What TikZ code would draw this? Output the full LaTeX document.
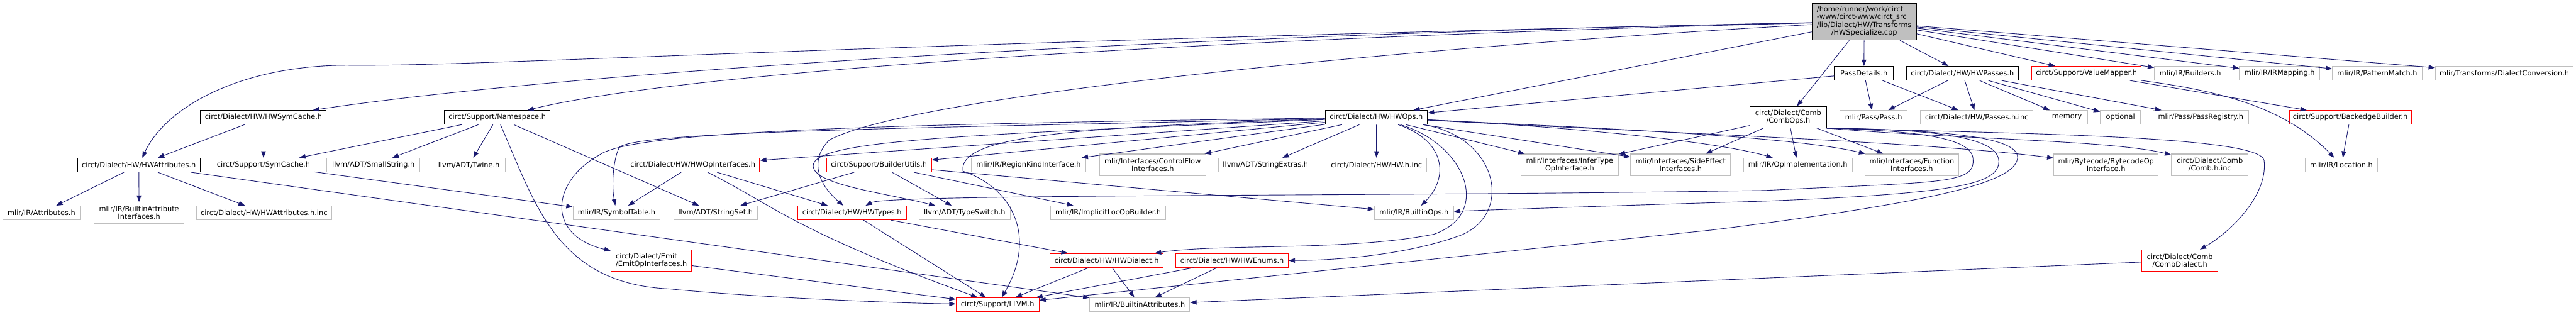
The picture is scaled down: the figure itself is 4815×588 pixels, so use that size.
\documentclass[tikz,border=0pt]{standalone}
\usepackage{fontspec}
\setmainfont{DejaVu Sans}
\usetikzlibrary{arrows.meta}
\definecolor{cedge}{HTML}{191970}
\definecolor{cleaf}{HTML}{BFBFBF}
\definecolor{ctrunc}{HTML}{FF0000}
\def\px{0.75pt}
\tikzset{
  every picture/.style={x=\px, y=-\px},
  file/.style={draw, rectangle, inner sep=0pt, minimum height=26*\px, align=center,
    line width=0.9pt, font=\fontsize{10}{10.5}\selectfont},
  lnk/.style={file, draw=black},
  leaf/.style={file, draw=cleaf},
  trunc/.style={file, draw=ctrunc},
  wd/.style={minimum width=#1*\px},
  tall/.style={minimum height=40*\px},
  inc/.style={draw=cedge, line width=0.8pt, -{Triangle[length=9pt,width=6.5pt]}},
}
\newcommand{\bbox}{\path[use as bounding box, fill=white] (0,0) rectangle (4815,588);}

\begin{document}
\begin{tikzpicture}
  \bbox
  % source file and first level
  \node[lnk, fill=cleaf, wd=195, minimum height=69*\px] (main) at (3484.5,40.5)
    {\begin{tabular}{@{}l@{}}/home/runner/work/circt\\-www/circt-www/circt\_src\\
     /lib/Dialect/HW/Transforms\\\multicolumn{1}{@{}c@{}}{/HWSpecialize.cpp}\end{tabular}};
  \node[lnk, wd=110] (passdet) at (3484,137) {PassDetails.h};
  \node[lnk, wd=210] (hwpasses) at (3668,137) {circt/Dialect/HW/HWPasses.h};
  \node[trunc, wd=204] (valmap) at (3900,137) {circt/Support/ValueMapper.h};
  \node[leaf, wd=134] (builders) at (4094,137) {mlir/IR/Builders.h};
  \node[leaf, wd=150] (irmap) at (4261,137) {mlir/IR/IRMapping.h};
  \node[leaf, wd=167] (patmatch) at (4443.5,137) {mlir/IR/PatternMatch.h};
  \node[leaf, wd=258] (dialconv) at (4681,137) {mlir/Transforms/DialectConversion.h};

  \node[lnk, wd=235] (hwsymcache) at (492.5,219.5) {circt/Dialect/HW/HWSymCache.h};
  \node[lnk, wd=197] (namespace) at (929.5,219.5) {circt/Support/Namespace.h};
  \node[lnk, wd=191] (hwops) at (2572.5,219.5) {circt/Dialect/HW/HWOps.h};
  \node[lnk, wd=143, tall] (combops) at (3342.5,219) {circt/Dialect/Comb\\/CombOps.h};
  \node[leaf, wd=126] (pass) at (3502,219.5) {mlir/Pass/Pass.h};
  \node[leaf, wd=210] (passesinc) at (3695,219.5) {circt/Dialect/HW/Passes.h.inc};
  \node[leaf, wd=77] (memory) at (3863.5,219.5) {memory};
  \node[leaf, wd=75] (optional) at (3963.5,219.5) {optional};
  \node[leaf, wd=179] (passreg) at (4113.5,219.5) {mlir/Pass/PassRegistry.h};
  \node[trunc, wd=228] (backedge) at (4393,219.5) {circt/Support/BackedgeBuilder.h};

  \node[lnk, wd=229] (hwattr) at (259.5,308.5) {circt/Dialect/HW/HWAttributes.h};
  \node[trunc, wd=189] (symcache) at (492.5,308.5) {circt/Support/SymCache.h};
  \node[leaf, wd=174] (smallstr) at (698,308.5) {llvm/ADT/SmallString.h};
  \node[leaf, wd=135] (twine) at (876.5,308.5) {llvm/ADT/Twine.h};
  \node[trunc, wd=250] (hwopif) at (1295,308.5) {circt/Dialect/HW/HWOpInterfaces.h};
  \node[trunc, wd=196] (bldutils) at (1643,308.5) {circt/Support/BuilderUtils.h};
  \node[leaf, wd=213] (regionkind) at (1922.5,308.5) {mlir/IR/RegionKindInterface.h};
  \node[leaf, wd=199, tall] (ctrlflow) at (2154.5,308) {mlir/Interfaces/ControlFlow\\Interfaces.h};
  \node[leaf, wd=177] (strextras) at (2365.5,308.5) {llvm/ADT/StringExtras.h};
  \node[leaf, wd=188] (hwinc) at (2573,308.5) {circt/Dialect/HW/HW.h.inc};
  \node[leaf, wd=182, tall] (infertype) at (2934,308) {mlir/Interfaces/InferType\\OpInterface.h};
  \node[leaf, wd=187, tall] (sideeff) at (3141.5,308) {mlir/Interfaces/SideEffect\\Interfaces.h};
  \node[leaf, wd=203] (opimpl) at (3360.5,308.5) {mlir/IR/OpImplementation.h};
  \node[leaf, wd=175, tall] (funcif) at (3573.5,308) {mlir/Interfaces/Function\\Interfaces.h};
  \node[leaf, wd=195, tall] (bytecode) at (3936.5,308) {mlir/Bytecode/BytecodeOp\\Interface.h};
  \node[leaf, wd=143, tall] (combinc) at (4130.5,308) {circt/Dialect/Comb\\/Comb.h.inc};
  \node[leaf, wd=135] (location) at (4376.5,308.5) {mlir/IR/Location.h};

  \node[leaf, wd=145] (attrs) at (77.5,398) {mlir/IR/Attributes.h};
  \node[leaf, wd=168, tall] (attrif) at (260,398) {mlir/IR/BuiltinAttribute\\Interfaces.h};
  \node[leaf, wd=253] (hwattrinc) at (493.5,398) {circt/Dialect/HW/HWAttributes.h.inc};
  \node[leaf, wd=163] (symtab) at (1152.5,398) {mlir/IR/SymbolTable.h};
  \node[leaf, wd=157] (strset) at (1337.5,398) {llvm/ADT/StringSet.h};
  \node[trunc, wd=203] (hwtypes) at (1592.5,398) {circt/Dialect/HW/HWTypes.h};
  \node[leaf, wd=170] (typeswitch) at (1803,398) {llvm/ADT/TypeSwitch.h};
  \node[leaf, wd=215] (implicitloc) at (2071.5,398) {mlir/IR/ImplicitLocOpBuilder.h};
  \node[leaf, wd=148] (builtinops) at (2643,398) {mlir/IR/BuiltinOps.h};

  \node[trunc, wd=151, tall, align=left] (emitopif) at (1217.5,487) {circt/Dialect/Emit\\/EmitOpInterfaces.h};
  \node[trunc, wd=211] (hwdialect) at (2068.5,487) {circt/Dialect/HW/HWDialect.h};
  \node[trunc, wd=210] (hwenums) at (2303,487) {circt/Dialect/HW/HWEnums.h};
  \node[trunc, wd=143, tall] (combdialect) at (4074.5,487) {circt/Dialect/Comb\\/CombDialect.h};

  \node[trunc, wd=155] (llvm) at (1864.5,569.5) {circt/Support/LLVM.h};
  \node[leaf, wd=187] (builtinattr) at (2130.5,569.5) {mlir/IR/BuiltinAttributes.h};

  % includes of the source file
  \draw[inc] (main) -- (passdet);
  \draw[inc] (main) -- (hwpasses);
  \draw[inc] (main) -- (valmap);
  \draw[inc] (main) -- (builders);
  \draw[inc] (main) -- (irmap);
  \draw[inc] (main) -- (patmatch);
  \draw[inc] (main) -- (dialconv);
  \draw[inc] (main) -- (combops);
  \draw[inc] (main) -- (hwops);
  \draw[inc] (main) .. controls (2200,65) and (1100,130) .. (hwsymcache);
  \draw[inc] (main) .. controls (2300,70) and (1300,130) .. (namespace);
  \draw[inc] (main) .. controls (1600,80) and (900,125) .. (650,122)
    .. controls (450,122) and (310,200) .. (hwattr);
  \draw[inc] (main) .. controls (2600,90) and (1700,180) .. (1550,262)
    .. controls (1512,300) and (1530,345) .. (hwtypes);

  \draw[inc] (passdet) -- (pass);
  \draw[inc] (passdet) -- (passesinc);
  \draw[inc] (passdet) -- (hwops);
  \draw[inc] (hwpasses) -- (pass);
  \draw[inc] (hwpasses) -- (passesinc);
  \draw[inc] (hwpasses) -- (memory);
  \draw[inc] (hwpasses) -- (optional);
  \draw[inc] (hwpasses) -- (passreg);
  \draw[inc] (valmap) -- (backedge);
  \draw[inc] (valmap) .. controls (4150,170) and (4270,200) .. (location);
  \draw[inc] (backedge) -- (location);

  \draw[inc] (hwsymcache) -- (hwattr);
  \draw[inc] (hwsymcache) -- (symcache);
  \draw[inc] (namespace) -- (symcache);
  \draw[inc] (namespace) -- (smallstr);
  \draw[inc] (namespace) -- (twine);
  \draw[inc] (namespace) -- (strset);
  \draw[inc] (namespace) .. controls (1000,380) and (1040,530) .. (1250,540)
    .. controls (1400,555) and (1650,566) .. (llvm);
  \draw[inc] (hwattr) -- (attrs);
  \draw[inc] (hwattr) -- (attrif);
  \draw[inc] (hwattr) -- (hwattrinc);
  \draw[inc] (hwattr) -- (builtinattr);
  \draw[inc] (symcache) -- (symtab);

  % HWOps.h
  \draw[inc] (hwops) .. controls (1650,232) and (1180,245) .. (1120,290)
    .. controls (1030,340) and (1020,440) .. (emitopif);
  \draw[inc] (hwops) .. controls (1700,240) and (1200,245) .. (1158,275)
    .. controls (1148,292) and (1142,340) .. (symtab);
  \draw[inc] (hwops) -- (hwopif);
  \draw[inc] (hwops) .. controls (1800,252) and (1520,262) .. (1520,310)
    .. controls (1520,345) and (1650,360) .. (typeswitch);
  \draw[inc] (hwops) -- (bldutils);
  \draw[inc] (hwops) .. controls (2000,238) and (1790,255) .. (1800,320)
    .. controls (1890,350) and (1940,440) .. (llvm);
  \draw[inc] (hwops) -- (regionkind);
  \draw[inc] (hwops) -- (ctrlflow);
  \draw[inc] (hwops) -- (strextras);
  \draw[inc] (hwops) -- (hwinc);
  \draw[inc] (hwops) .. controls (2700,262) and (2710,330) .. (builtinops);
  \draw[inc] (hwops) .. controls (2740,270) and (2790,400) .. (2680,438)
    .. controls (2520,470) and (2280,455) .. (hwdialect);
  \draw[inc] (hwops) .. controls (2800,255) and (2830,400) .. (2730,440)
    .. controls (2620,480) and (2480,487) .. (hwenums);
  \draw[inc] (hwops) -- (infertype);
  \draw[inc] (hwops) -- (sideeff);
  \draw[inc] (hwops) .. controls (2900,235) and (3200,262) .. (opimpl);
  \draw[inc] (hwops) .. controls (3000,240) and (3350,255) .. (funcif);
  \draw[inc] (hwops) .. controls (3100,248) and (3600,265) .. (bytecode);

  \draw[inc] (bldutils) -- (strset);
  \draw[inc] (bldutils) -- (typeswitch);
  \draw[inc] (bldutils) -- (implicitloc);
  \draw[inc] (bldutils) -- (builtinops);
  \draw[inc] (hwopif) -- (symtab);
  \draw[inc] (hwopif) -- (hwtypes);
  \draw[inc] (hwopif) .. controls (1440,380) and (1480,430) .. (llvm);
  \draw[inc] (hwtypes) -- (llvm);
  \draw[inc] (hwtypes) -- (hwdialect);
  \draw[inc] (emitopif) -- (llvm);
  \draw[inc] (hwdialect) -- (llvm);
  \draw[inc] (hwdialect) -- (builtinattr);
  \draw[inc] (hwenums) -- (llvm);
  \draw[inc] (hwenums) -- (builtinattr);

  % CombOps.h
  \draw[inc] (combops) -- (infertype);
  \draw[inc] (combops) -- (sideeff);
  \draw[inc] (combops) -- (opimpl);
  \draw[inc] (combops) -- (funcif);
  \draw[inc] (combops.south east) .. controls (3650,260) and (3950,262) .. (combinc);
  \draw[inc] (combops.south east) .. controls (3800,250) and (4225,255) .. (4232,300)
    .. controls (4240,370) and (4160,440) .. (combdialect);
  \draw[inc] (combops.south east) .. controls (3600,245) and (3690,260) .. (3688,300)
    .. controls (3690,345) and (3620,340) .. (3300,356)
    .. controls (2600,368) and (1660,362) .. (hwtypes);
  \draw[inc] (combops.south east) .. controls (3650,242) and (3740,262) .. (3736,305)
    .. controls (3732,345) and (3650,362) .. (3300,376)
    .. controls (3000,385) and (2800,392) .. (builtinops);
  \draw[inc] (combops.south east) .. controls (3700,244) and (3790,265) .. (3768,305)
    .. controls (3745,345) and (3600,380) .. (3200,430) -- (llvm);
  \draw[inc] (combdialect) -- (builtinattr);
\end{tikzpicture}
\end{document}
